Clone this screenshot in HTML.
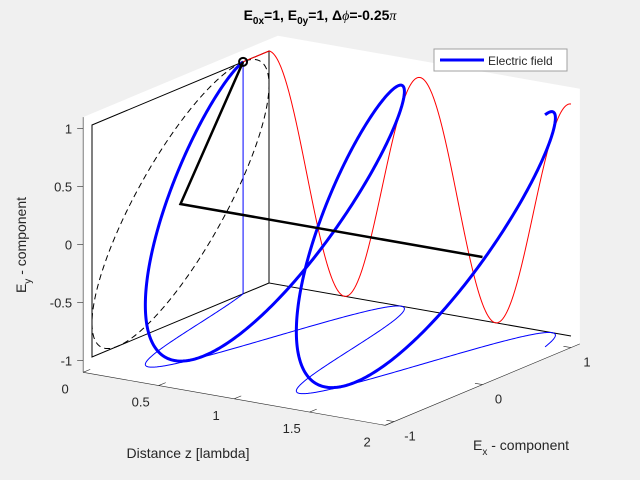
<!DOCTYPE html>
<html><head><meta charset="utf-8"><style>
html,body{margin:0;padding:0;background:#f0f0f0;}
svg{display:block;font-family:"Liberation Sans",sans-serif;}
</style></head><body>
<svg id="chart" width="640" height="480" viewBox="0 0 640 480" xmlns="http://www.w3.org/2000/svg">
<rect width="640" height="480" fill="#f0f0f0"/>
<polygon id="plotbg" fill="#ffffff"/>
<g id="axes"></g>
<g id="marks"></g>
<text x="320" y="20" text-anchor="middle" font-size="14" font-weight="bold" fill="#000">E<tspan font-size="10" dy="4">0x</tspan><tspan dy="-4">=1, E</tspan><tspan font-size="10" dy="4">0y</tspan><tspan dy="-4">=1, Δ</tspan><tspan font-style="italic" font-weight="normal" font-family="Liberation Serif,serif">ϕ</tspan><tspan>=-0.25</tspan><tspan font-style="italic" font-weight="normal" font-family="Liberation Serif,serif">π</tspan></text>
<text x="188" y="458" text-anchor="middle" font-size="14" fill="#262626">Distance z [lambda]</text>
<text x="473" y="450" font-size="14" fill="#262626">E<tspan font-size="10" dy="5">x</tspan><tspan dy="-5"> - component</tspan></text>
<text transform="translate(26,245) rotate(-90)" text-anchor="middle" font-size="14" fill="#262626">E<tspan font-size="10" dy="5">y</tspan><tspan dy="-5"> - component</tspan></text>
<g>
<rect x="434" y="49" width="133" height="22" fill="#fff" stroke="#a0a0a0" stroke-width="1"/>
<line x1="440" y1="60" x2="484" y2="60" stroke="#0000ff" stroke-width="3"/>
<text x="488" y="65" font-size="12" fill="#262626">Electric field</text>
</g>
</svg>
<script>
// data / parameters
const E0 = [1, 1];            // E0x, E0y
const dPhi = [-0.25];         // phase difference in units of pi
const zLimits = [0, 2];
const exLimits = [-1.1, 1.1];
const eyLimits = [-1.1, 1.1];
const zTicks = [0, 0.5, 1, 1.5, 2];
const zTickLabels = ['0', '0.5', '1', '1.5', '2'];
const exTicks = [-1, 0, 1];
const exTickLabels = ['-1', '0', '1'];
const eyTicks = [-1, -0.5, 0, 0.5, 1];
const eyTickLabels = ['-1', '-0.5', '0', '0.5', '1'];

const NS = 'http://www.w3.org/2000/svg';
function P(z, x, y) { return [180.5 + 151 * z + 88.5 * x, 204 + 26.5 * z - 37 * x - 116 * y]; }
function Ex(z) { return E0[0] * Math.cos(2 * Math.PI * z - dPhi[0] * Math.PI); }
function Ey(z) { return E0[1] * Math.cos(2 * Math.PI * z); }
function mk(tag, attrs, parent) { const e = document.createElementNS(NS, tag); for (const k in attrs) e.setAttribute(k, attrs[k]); parent.appendChild(e); return e; }
function pathD(pts) { return pts.map((p, i) => (i ? 'L' : 'M') + p[0].toFixed(2) + ' ' + p[1].toFixed(2)).join(''); }

const zl = zLimits, xl = exLimits, yl = eyLimits;
const hex = [P(zl[0], xl[0], yl[1]), P(zl[0], xl[1], yl[1]), P(zl[1], xl[1], yl[1]), P(zl[1], xl[1], yl[0]), P(zl[1], xl[0], yl[0]), P(zl[0], xl[0], yl[0])];
document.getElementById('plotbg').setAttribute('points', hex.map(p => p.join(',')).join(' '));

const ax = document.getElementById('axes');
const ac = '#262626';
let l;
l = mk('path', { d: pathD([P(zl[0], xl[0], yl[0]), P(zl[0], xl[0], yl[1])]), stroke: ac, 'stroke-width': 0.6, fill: 'none' }, ax);
 
l = mk('path', { d: pathD([P(zl[0], xl[0], yl[0]), P(zl[1], xl[0], yl[0])]), stroke: ac, 'stroke-width': 0.6, fill: 'none' }, ax);
 
l = mk('path', { d: pathD([P(zl[1], xl[0], yl[0]), P(zl[1], xl[1], yl[0])]), stroke: ac, 'stroke-width': 0.6, fill: 'none' }, ax);
 

eyTicks.forEach((v, i) => {
  const p = P(zl[0], xl[0], v);
  const t = mk('line', { x1: p[0] - 6, y1: p[1], x2: p[0], y2: p[1], stroke: ac, 'stroke-width': 0.6 }, ax);
   
  const tx = mk('text', { x: p[0] - 11, y: p[1] + 5, 'text-anchor': 'end', 'font-size': 13, fill: ac }, ax);
  tx.textContent = eyTickLabels[i];
   
});
zTicks.forEach((v, i) => {
  const p = P(v, xl[0], yl[0]); const q = P(v, xl[0] + 0.08, yl[0]);
  const t = mk('line', { x1: p[0], y1: p[1], x2: q[0], y2: q[1], stroke: ac, 'stroke-width': 0.6 }, ax);
   
  const tx = mk('text', { x: p[0] - 18, y: p[1] + 21, 'text-anchor': 'middle', 'font-size': 13, fill: ac }, ax);
  tx.textContent = zTickLabels[i];
   
});
exTicks.forEach((v, i) => {
  const p = P(zl[1], v, yl[0]); const q = P(zl[1] - 0.05, v, yl[0]);
  const t = mk('line', { x1: p[0], y1: p[1], x2: q[0], y2: q[1], stroke: ac, 'stroke-width': 0.6 }, ax);
   
  const tx = mk('text', { x: p[0] + 16, y: p[1] + 19, 'text-anchor': 'middle', 'font-size': 13, fill: ac }, ax);
  tx.textContent = exTickLabels[i];
   
});

const mg = document.getElementById('marks');
// frame at z=0
l = mk('path', { d: pathD([P(0, 1, -1), P(0, -1, -1), P(0, -1, 1), P(0, 1, 1), P(0, 1, -1), P(2, 1, -1)]), stroke: '#000', 'stroke-width': 1, fill: 'none' }, mg);
 

const N = 600;
const zs = []; for (let i = 0; i <= N; i++) zs.push(zl[0] + (zl[1] - zl[0]) * i / N);
// dashed ellipse (polarization at z=0)
const ell = zs.map(z => P(0, Ex(z / 2), Ey(z / 2)));
l = mk('path', { d: pathD(ell), stroke: '#000', 'stroke-width': 1, fill: 'none', 'stroke-dasharray': '6,4' }, mg);
 
// projection on bottom plane
l = mk('path', { d: pathD(zs.map(z => P(z, Ex(z), -1))), stroke: '#0000ff', 'stroke-width': 1, fill: 'none' }, mg);
 
// projection on back plane
l = mk('path', { d: pathD([P(0, Ex(0), Ey(0))].concat(zs.map(z => P(z, 1, Ey(z))))), stroke: '#ff0000', 'stroke-width': 1, fill: 'none' }, mg);
 
// vertical drop line
l = mk('path', { d: pathD([P(0, Ex(0), Ey(0)), P(0, Ex(0), -1)]), stroke: '#0000ff', 'stroke-width': 1, fill: 'none' }, mg);
 
// electric field helix
l = mk('path', { d: pathD(zs.map(z => P(z, Ex(z), Ey(z)))), stroke: '#0000ff', 'stroke-width': 3, fill: 'none', 'stroke-linejoin': 'round' }, mg);
 
// thick black axis & vector
l = mk('path', { d: pathD([P(0, Ex(0), Ey(0)), P(0, 0, 0), P(2, 0, 0)]), stroke: '#000', 'stroke-width': 2.5, fill: 'none' }, mg);
 
const tip = P(0, Ex(0), Ey(0));
l = mk('circle', { cx: tip[0], cy: tip[1], r: 4, stroke: '#000', 'stroke-width': 2, fill: 'none' }, mg);
 
</script>
</body></html>
